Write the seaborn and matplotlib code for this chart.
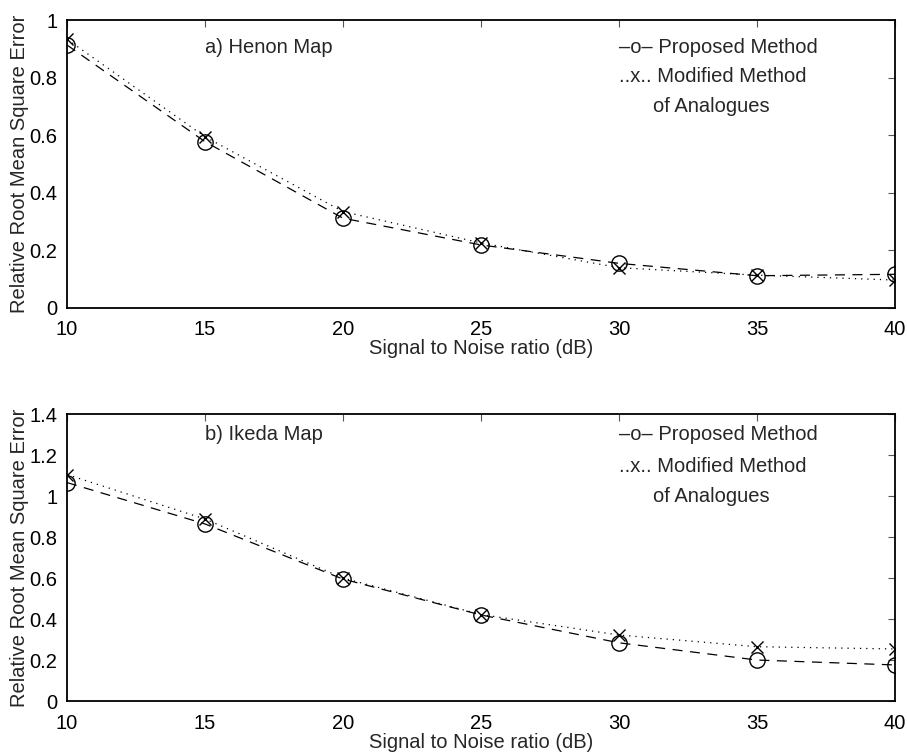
import matplotlib
matplotlib.use("Agg")
import matplotlib.pyplot as plt
from matplotlib.ticker import FormatStrFormatter
import numpy as np
import pandas as pd
import seaborn as sns

# ---------------------- data ----------------------
snr = [10, 15, 20, 25, 30, 35, 40]

henon_proposed = [0.913, 0.577, 0.311, 0.218, 0.154, 0.111, 0.116]
henon_modified = [0.933, 0.594, 0.334, 0.225, 0.139, 0.113, 0.096]

ikeda_proposed = [1.066, 0.864, 0.595, 0.420, 0.284, 0.200, 0.176]
ikeda_modified = [1.105, 0.888, 0.600, 0.422, 0.322, 0.265, 0.254]

panel_titles = ["a) Henon Map", "b) Ikeda Map"]
legend_lines = ["\u2013o\u2013 Proposed Method", "..x.. Modified Method", "of Analogues"]
xlabel = "Signal to Noise ratio (dB)"
ylabel = "Relative Root Mean Square Error"

# ---------------------- style ----------------------
sns.set_style("white")
plt.rcParams["font.family"] = ["Liberation Sans", "DejaVu Sans"]
FS = 14.5

fig = plt.figure(figsize=(9.07, 7.55), dpi=100)
ax_top = fig.add_axes([0.0739, 0.5925, 0.9129, 0.381])
ax_bot = fig.add_axes([0.0739, 0.0715, 0.9129, 0.380])

panels = [
    (ax_top, henon_proposed, henon_modified, 1.0, np.arange(0, 1.01, 0.2),
     (0.906, 0.802, 0.698)),
    (ax_bot, ikeda_proposed, ikeda_modified, 1.4, np.arange(0, 1.41, 0.2),
     (1.30, 1.146, 0.997)),
]

for (ax, prop, modi, ymax, yticks, text_y), title in zip(panels, panel_titles):
    df = pd.DataFrame({"snr": snr, "proposed": prop, "modified": modi})
    sns.lineplot(data=df, x="snr", y="modified", ax=ax, color="k",
                 linestyle=(0, (1, 4)), linewidth=0.9, marker="x", markersize=8,
                 markeredgewidth=1.0, markeredgecolor="k")
    sns.lineplot(data=df, x="snr", y="proposed", ax=ax, color="k",
                 linestyle=(0, (8, 6)), linewidth=0.9, marker="o", markersize=11,
                 markerfacecolor="none", markeredgewidth=1.0, markeredgecolor="k")

    ax.set_xlim(10, 40)
    ax.set_ylim(0, ymax)
    ax.set_xticks(snr)
    ax.set_yticks(yticks)
    ax.yaxis.set_major_formatter(FormatStrFormatter("%g"))
    ax.tick_params(direction="in", length=5, width=0.8, color="#555555",
                   top=True, right=True, labelsize=FS, labelcolor="k")
    ax.tick_params(axis="x", pad=9)
    ax.tick_params(axis="y", pad=7)
    for sp in ax.spines.values():
        sp.set_color("k")
        sp.set_linewidth(1.3)
    ax.set_xlabel(xlabel, fontsize=FS, labelpad=0)
    ax.set_ylabel(ylabel, fontsize=FS, labelpad=0)

    ax.text(15, text_y[0], title, fontsize=FS, va="center", ha="left")
    ax.text(30, text_y[0], legend_lines[0], fontsize=FS, va="center", ha="left")
    ax.text(30, text_y[1], legend_lines[1], fontsize=FS, va="center", ha="left")
    ax.text(31.23, text_y[2], legend_lines[2], fontsize=FS, va="center", ha="left")

fig.savefig("out.png", dpi=100)
